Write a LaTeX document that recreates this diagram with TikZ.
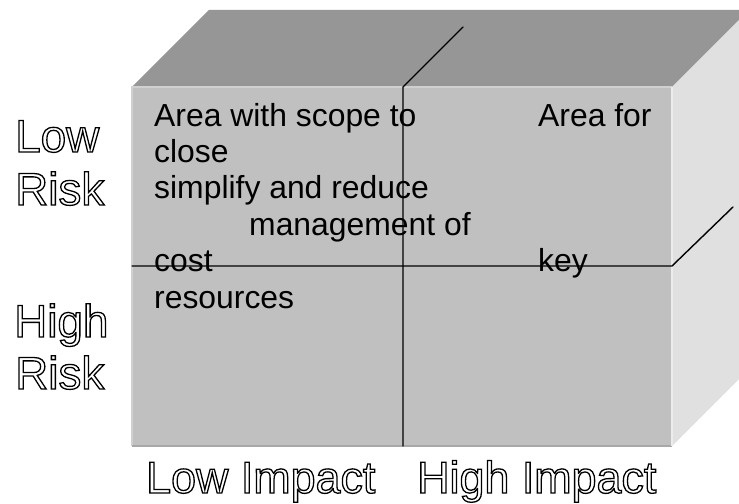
\documentclass[tikz,border=0pt]{standalone}
\usepackage{fontspec}
\setmainfont{Liberation Sans}
\newcommand\outlinedtext[1]{\special{pdf:literal direct 1 Tr 1.3 w}#1\special{pdf:literal direct 0 Tr}}
\definecolor{topgray}{RGB}{150,150,150}
\definecolor{frontgray}{RGB}{192,192,192}
\definecolor{sidegray}{RGB}{224,224,224}
\definecolor{edgelight}{RGB}{208,208,208}
\definecolor{edgedark}{RGB}{168,168,168}
\definecolor{edgeside}{RGB}{236,236,236}
\tikzset{
  face/.style={draw=none},
  divider/.style={draw=black, line width=1.4pt, line cap=round, line join=round},
  body/.style={anchor=base west, inner sep=0pt, font=\fontsize{32}{37}\selectfont},
  axislabel/.style={anchor=base west, inner sep=0pt, font=\fontsize{45}{52}\selectfont},
  sidelabel/.style={axislabel, font=\fontsize{46}{53}\selectfont},
}
\begin{document}
\begin{tikzpicture}[x=1bp, y=-1bp]
\useasboundingbox (0,0) rectangle (739,504);
\fill[white] (0,0) rectangle (739,504);
% cube corners
\coordinate (ftl) at (132,87);
\coordinate (ftr) at (672,87);
\coordinate (fbr) at (672,446);
\coordinate (fbl) at (132,446);
\coordinate (btl) at (209,10);
\coordinate (btr) at (739,10);
\coordinate (rtr) at (739,20);
\coordinate (rbr) at (739,379);
% faces
\fill[face, fill=topgray] (ftl) -- (btl) -- (btr) -- (rtr) -- (ftr) -- cycle;
\fill[face, fill=sidegray] (ftr) -- (rtr) -- (rbr) -- (fbr) -- cycle;
\fill[face, fill=frontgray] (ftl) rectangle (fbr);
% bevel edges of the front face
\draw[line width=1.5pt, edgelight] (fbl) -- (ftl) -- (ftr);
\draw[line width=1.5pt, edgedark] (fbl) -- (fbr);
\draw[line width=1.5pt, edgeside] (ftr) -- (fbr);
% dividers
\coordinate (vtop) at (403,87);
\coordinate (vbot) at (403,446);
\coordinate (vback) at (463,27);
\coordinate (hleft) at (132,266);
\coordinate (hright) at (672,266);
\coordinate (hback) at (733,207);
\draw[divider] (vbot) -- (vtop) -- (vback);
\draw[divider] (hleft) -- (hright) -- (hback);
% texts in the quadrants
\node[body] (t1) at (154,127) {Area with scope to};
\node[body] (t2) at (154,163) {close};
\node[body] (t3) at (154,199) {simplify and reduce};
\node[body] (t4) at (249,235.5) {management of};
\node[body] (t5) at (154,272) {cost};
\node[body] (t6) at (154,308) {resources};
\node[body] (t7) at (538,127) {Area for};
\node[body] (t8) at (538,272) {key};
% axis labels
\node[sidelabel] (lr1) at (15,152) {\outlinedtext{Low}};
\node[sidelabel] (lr2) at (15,205) {\outlinedtext{Risk}};
\node[sidelabel] (hr1) at (14,337) {\outlinedtext{High}};
\node[sidelabel] (hr2) at (15,389) {\outlinedtext{Risk}};
\node[axislabel] (li) at (146,493) {\outlinedtext{Low Impact}};
\node[axislabel] (hi) at (417,493) {\outlinedtext{High Impact}};
\end{tikzpicture}
\end{document}
